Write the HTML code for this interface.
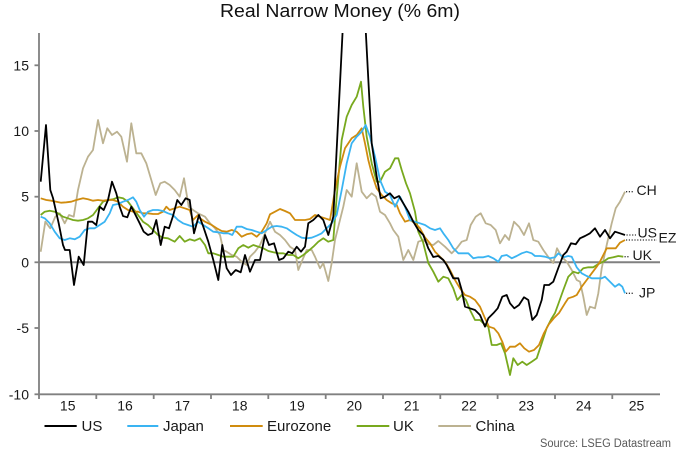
<!DOCTYPE html>
<html><head><meta charset="utf-8"><style>
html,body{margin:0;padding:0;background:#fff;}
svg{display:block;}
text{font-family:"Liberation Sans",Arial,sans-serif;}
</style></head><body>
<svg width="680" height="453" viewBox="0 0 680 453" xmlns="http://www.w3.org/2000/svg">
<defs><clipPath id="c"><rect x="39" y="33" width="622" height="362"/></clipPath></defs>
<text x="340" y="17" font-size="18" text-anchor="middle" textLength="240" lengthAdjust="spacingAndGlyphs" fill="#111">Real Narrow Money (% 6m)</text>
<!-- zero line -->
<line x1="39" y1="262.3" x2="660" y2="262.3" stroke="#808080" stroke-width="2"/>
<g clip-path="url(#c)" fill="none" stroke-width="1.8" stroke-linejoin="round">
<polyline stroke="#bcb291" points="40.7,251.7 45.3,221.7 50.3,228.3 55.3,216.7 59.7,213.3 64.7,223.3 69,215 73.7,216.7 78,190 83,168.3 88,156.7 93,150 98,120 103,143.3 107.3,128.3 112,135 117,131.7 121.3,136.7 127,161.7 131.3,123.3 136.3,153.3 141.3,153.3 146.3,163.3 151.3,180 155.7,195 160.3,183.3 164.7,181.7 169.7,185 174.7,190 179.7,196.7 184,178.3 188.7,206.7 193,210 198,213.3 205,216.7 210,223.3 215,228.3 220,235 223.3,250 226.7,251.7 231.7,255 236.7,256.7 241.7,261.7 246.7,265 250,256.7 255,251.7 260,245 265,233.3 270,221.7 275,231.7 280,235 285,240 290,246.7 295,250 298.3,270 301.7,261.7 306.7,250 311.7,250 315,256.7 320,268.3 323.3,263.3 328.3,281 331.7,263 335,240 338.3,226.7 343.3,206.7 346.7,190 351.7,196.7 356.7,163.3 361.7,191.7 366.7,198.3 371.7,193.3 376,196.7 380,211.7 385,215 390,223.3 393.3,230 398.3,236.7 403.3,260 408.3,250 413.3,260 418.3,241.7 423.3,240 428.3,244 433.3,245 438.3,241 445,246.7 451.7,253.3 456.7,248.3 461.7,241.7 466.7,240 470.7,225 475.7,216.7 480.7,213.3 485.7,223.3 490.7,225 495.7,230 500,243.3 505,235 509,240 514,221.7 519,226.7 524,235 529,223.3 533.3,240 538.3,241.7 543.3,250 548.3,257 553.3,263 557,248.3 561.7,256.7 566.7,261.7 571.7,270 576.7,280 580,281.7 583.3,296.7 586.7,315 590,306.7 595,308.3 598.3,293.3 601.7,268.3 606.7,245 611.7,223.3 615.7,208.3 620,201.7 625,191.7"/>
<polyline stroke="#78a91e" points="40.7,215 44.7,211.7 49.7,210.7 54.7,211.7 58,213.3 63,216.7 68,218.3 73,220 78,220.7 83,220 88,218.3 93,215 98,208.3 103,201.7 108,200 113,199.3 118,197.3 123,198.3 128,201.7 133,208.3 138,215 143,221.7 148,225 153,230 158,235 163,237.7 168,238.3 171.3,240 174.7,241.7 179.7,236 184.7,241.7 189.7,239.3 194.7,240.7 200,238.3 205,245 208.3,253.3 213.3,253.3 218.3,255 223.3,256.7 228.3,256.7 233.3,256.7 238.3,248.3 243.3,245 248.3,247.7 253.3,245 258.3,246.7 263.3,248.3 268.3,251 273.3,252.3 278.3,253.3 283.3,253.3 288.3,255 293.3,255 298.3,258.3 303.3,255 308.3,251 313.3,246.7 318.3,241.7 323.3,238.3 328.3,241.7 333.3,240 336.7,196.7 341.7,140 346.7,116.7 351.7,105 356.7,96.7 361,81.7 363.3,106.7 366.7,136.7 371.7,163.3 376.7,181.7 380,181.7 385,171.7 390,168.3 395,158.3 398.3,158.3 401.7,170 406,183.3 410,193.3 415,211.7 418.3,231.7 423,242 428.3,263 433.3,271.7 438.3,281.7 443.3,276.7 448.3,278.3 453.3,288.3 457.3,300 461.7,295 466,300 470,310 475,320 480,320 483.3,323.3 488.3,326.7 491.7,345 496.7,345 501,343.3 505,353.3 510,375 513.3,358.3 517.7,365 522.3,361.7 526.7,365 531.7,361.7 536.7,358.3 541.7,343.3 546.7,328 551.7,318.3 555,313 558.3,304 563.3,290 568.3,276.7 573.3,271.7 578.3,273.3 583.3,268.3 588.3,267.3 593.3,267.3 598.3,264 603.3,261.7 608.3,258.3 613.3,257.3 618.3,256 623.3,256.7"/>
<polyline stroke="#d08c0e" points="40.7,198.3 46.3,200 51.3,200.7 56.3,201.7 61.3,202.7 66.3,202.3 71.3,201.7 76.3,200 83,198.3 88,199.3 93,200.7 98,200 103,200.7 108,200 113,200 118,201.7 123,206.7 128,210 133,211.7 138,211.7 143,213.3 148,213.3 153,214 158,214 163,211.7 166.3,206.7 169.7,210 174.7,208.3 179.7,206.7 184.7,208.3 189.7,210 193,220 198,215 200,218.3 205,221.7 211.7,225 216.7,228.3 221.7,231 226.7,231.7 231.7,230 236.7,231.7 241.7,236.7 246.7,234.3 251.7,233.3 256.7,236.7 261.7,231.7 266.7,223.3 270,214.3 275,211.7 280,209 285,211 290,213.3 295,220 300,220 305,220 310,219 315,215 320,216.7 325,218.3 330,220 335,190 340,166.7 345,148.3 351.7,138.3 356.7,135 361.7,128.3 365,143.3 368.3,160 371.7,173.3 376.7,188.3 381.7,195 386.7,200 391.7,203.3 396.7,205 400,213.3 405,221.7 410,220 415,223.3 420,228.3 425,237.5 430,243.3 435,251.7 440,256.7 445,261.7 450,270 455,280 460,288.3 465,295 470,296.7 475,300 480,306.7 484.3,316.7 489,326.7 494,328.3 498.3,333.3 502.3,341.7 505.7,351.7 510,346.7 515,346.7 520,343.3 524.3,348.3 529,351.7 534,350 539,345 544,333 549,324 554,318 559,313 565,303.3 568.3,298.3 573.3,296.7 576.7,295 581.7,286.7 586.7,280 591.7,273.3 596.7,266.7 600,261.7 603.3,255 606.7,248.3 611.7,248.3 615.7,248.3 620,242.7 625,240"/>
<polyline stroke="#3ab4f2" points="40.7,216.7 44.7,218.3 49.7,223.3 54.7,231.7 59.7,238.3 64.7,240 69.7,238.3 74.7,239.3 79.7,236.7 84.7,230 89.7,228.3 94.7,228.3 99.7,225 104.7,221.7 109.7,213.3 113,205 118,204 123,201.7 128,200 133,197.3 136.3,201.7 139.7,210 144,216.7 148,211.7 153,210 158,210 163,211 168,213.3 173,215 178,220 183,223.3 188,225 193,226.7 198,221.7 203.3,225 208.3,228.3 213.3,231.7 218.3,232.3 223.3,233.3 228.3,233.3 232.3,235 236.7,226.7 241.7,226.7 246.7,229 251.7,230 256.7,231.7 261.7,233.3 266.7,230 271.7,226.7 276.7,226 281.7,226.7 286.7,228.3 291.7,231.7 296.7,235 301.7,237.7 306.7,238.3 311.7,237.7 316.7,235.7 321.7,233.3 326.7,228.3 331.7,223.3 336.7,215 341.7,190 346.7,163.3 351.7,143.3 356.7,136.7 361.7,131.7 365.7,125 370,136.7 375,156.7 380,180 385,191.7 390,195 395,206.7 400,196.7 405,206.7 410,220 415,221.7 420,223.3 425,225 430,228.3 435,230 440,228.3 443.3,233.3 448.3,240 453.3,248.3 458.3,253.3 463.3,253.3 468.3,253.3 473.3,258.3 478.3,257.3 483.3,257.3 488.3,256 493.3,258.3 498.3,261.7 501.7,256 506.7,255 511.7,258.3 516.7,256 521.7,253.3 526.7,251.7 531.7,253.3 535,256 540,256 545,256.7 550,258.3 555,257.3 558.3,253.3 563.3,257.3 568.3,256 571.7,256.7 576.7,267.3 581.7,273.3 586.7,276 591.7,278.3 596.7,278.3 601.7,278.3 605,276.7 610,281.7 615,286.7 619,284 622.3,286.7 625,293.3"/>
<polyline stroke="#000" points="40.7,181.7 46,125 50.3,190 53,198 58.7,223.3 63,245 65,250 69.7,250 74,285 78.7,256.7 83.7,265 88,221.7 92.3,221.7 96.3,225 99.7,206.7 103.7,210 108,200 112,181.7 116.3,193.3 119.7,206.7 123,216 127.3,217.3 131.3,206.7 134.7,213.3 139.7,223.3 143.7,231.7 148,235 152.3,233.3 156.3,220 160.7,245 164.7,226.7 169,228.3 173,216 177.3,200 181.3,205 185.7,198.3 189.7,200 194,233.3 199,215 203.3,226.7 208.3,241.7 213.3,260 218.3,280 222.3,245 226.7,268.3 231,275 235.7,270 240.7,272.3 245,255 250,271.7 255,260 260,260 265,235 269,245 274,243.3 279,260 283.3,258.3 288.3,251.7 292.3,253.3 296.7,246.7 301,251.7 305,246.7 308.3,223.3 313.3,220 318.3,215 323.3,220 328.3,235 333.3,216.7 347,-56 352,-100 357,-100 362,-40 371.7,143.3 376.7,176.7 380.7,198.3 385,196.7 390,193.3 394.3,198.3 399,196 403.3,203.3 408.3,211.7 413.3,221.7 418.3,230 423.3,235 428.3,248.3 433.3,257 438.3,256 443.3,260 446.7,265 450,271.7 453.3,278.3 458.3,278.3 461.7,290 465,306.7 470,308.3 475,310 480,315 485,326.7 488.3,318.3 493.3,313.3 497.7,308.3 502.3,296.7 506.7,295 510,303.3 514.3,308.3 519,305 524,297.3 528.3,300 532.3,320 536.7,315 541.7,300 544.3,285 549,285 553.3,281.7 558.3,268 563.3,255 566.7,251.7 571,243.3 575.7,244.3 580,238.3 585,236 590,233.3 595,228.3 600,236.7 605,230 610,238.3 615,231.7 620,233.3 625,235"/>
</g>
<!-- leaders -->
<g stroke="#333" stroke-width="1.3" stroke-dasharray="1.2,1.6" fill="none">
<line x1="626" y1="191.7" x2="634" y2="191.7"/>
<line x1="626.5" y1="235" x2="636" y2="235"/>
<line x1="626" y1="240" x2="657" y2="240"/>
<line x1="624.5" y1="256.7" x2="629" y2="256.7"/>
<line x1="626" y1="293.3" x2="633" y2="293.3"/>
</g>
<g font-size="14" fill="#1a1a1a">
<text x="636.5" y="195">CH</text>
<text x="637.5" y="237.5">US</text>
<text x="658.5" y="242.5">EZ</text>
<text x="632.5" y="260">UK</text>
<text x="639" y="297.5">JP</text>
</g>
<!-- axes -->
<g stroke="#808080" stroke-width="1.8" fill="none">
<line x1="39" y1="33" x2="39" y2="395"/>
<line x1="38" y1="394.3" x2="660" y2="394.3"/>
<line x1="34.5" y1="65.3" x2="39" y2="65.3"/>
<line x1="34.5" y1="131" x2="39" y2="131"/>
<line x1="34.5" y1="196.7" x2="39" y2="196.7"/>
<line x1="34.5" y1="262.3" x2="39" y2="262.3"/>
<line x1="34.5" y1="328" x2="39" y2="328"/>
<line x1="34.5" y1="394.3" x2="39" y2="394.3"/>
<line x1="39" y1="394" x2="39" y2="399"/>
<line x1="96.3" y1="394" x2="96.3" y2="399"/>
<line x1="153.7" y1="394" x2="153.7" y2="399"/>
<line x1="211" y1="394" x2="211" y2="399"/>
<line x1="268.3" y1="394" x2="268.3" y2="399"/>
<line x1="325.7" y1="394" x2="325.7" y2="399"/>
<line x1="383" y1="394" x2="383" y2="399"/>
<line x1="440.3" y1="394" x2="440.3" y2="399"/>
<line x1="497.6" y1="394" x2="497.6" y2="399"/>
<line x1="555" y1="394" x2="555" y2="399"/>
<line x1="612.3" y1="394" x2="612.3" y2="399"/>
</g>
<g font-size="14" fill="#1a1a1a" text-anchor="end">
<text x="29" y="70.3">15</text>
<text x="29" y="136">10</text>
<text x="29" y="201.7">5</text>
<text x="29" y="267.3">0</text>
<text x="29" y="333">-5</text>
<text x="29" y="399.3">-10</text>
</g>
<g font-size="14" fill="#1a1a1a" text-anchor="middle">
<text x="67.7" y="410.5">15</text>
<text x="125" y="410.5">16</text>
<text x="182.3" y="410.5">17</text>
<text x="239.7" y="410.5">18</text>
<text x="297" y="410.5">19</text>
<text x="354.3" y="410.5">20</text>
<text x="411.7" y="410.5">21</text>
<text x="469" y="410.5">22</text>
<text x="526.3" y="410.5">23</text>
<text x="583.7" y="410.5">24</text>
<text x="636.5" y="410.5">25</text>
</g>
<!-- legend -->
<g stroke-width="2">
<line x1="44.5" y1="426" x2="76.7" y2="426" stroke="#000"/>
<line x1="127.3" y1="426" x2="158.3" y2="426" stroke="#3ab4f2"/>
<line x1="230" y1="426" x2="262.7" y2="426" stroke="#d08c0e"/>
<line x1="356.7" y1="426" x2="389.3" y2="426" stroke="#78a91e"/>
<line x1="438.3" y1="426" x2="471" y2="426" stroke="#bcb291"/>
</g>
<g font-size="15" fill="#1a1a1a">
<text x="81.5" y="431">US</text>
<text x="163" y="431">Japan</text>
<text x="267" y="431">Eurozone</text>
<text x="393" y="431">UK</text>
<text x="475.5" y="431">China</text>
</g>
<text x="540" y="447" font-size="11.5" fill="#595959" textLength="131" lengthAdjust="spacingAndGlyphs">Source: LSEG Datastream</text>
</svg>
</body></html>
